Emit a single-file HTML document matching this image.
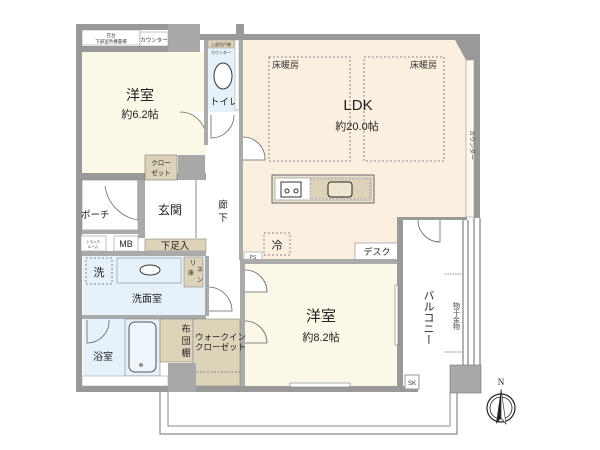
<!DOCTYPE html>
<html><head><meta charset="utf-8"><style>
html,body{margin:0;padding:0;background:#fff;}
svg{display:block;font-family:"Liberation Sans","Noto Sans CJK JP",sans-serif;}
</style></head><body>
<svg width="600" height="450" viewBox="0 0 600 450" xmlns="http://www.w3.org/2000/svg">
<rect width="600" height="450" fill="#fff"/>
<!-- balcony outer lines -->
<polyline points="160,392 160,434 457,434 457,392" fill="none" stroke="#888" stroke-width="1.2"/>
<polyline points="168,392 168,426 450,426 450,392" fill="none" stroke="#888" stroke-width="1"/>
<!-- outer wall base -->
<rect x="76" y="24" width="6" height="368" fill="#999"/>
<rect x="76" y="386" width="342" height="6" fill="#999"/>
<rect x="76" y="24" width="124" height="6" fill="#999"/>
<rect x="168" y="24" width="32" height="28" fill="#a8a8a8"/>
<rect x="200" y="34" width="280" height="6" fill="#999"/>
<rect x="236" y="24" width="8" height="16" fill="#999"/>
<rect x="474" y="40" width="6" height="178" fill="#999"/>
<!-- LDK -->
<polygon points="243,40 466,40 466,217 401,217 401,260 243,260" fill="#fbefdf"/>
<rect x="466" y="60" width="8" height="157" fill="#fdf7ec" stroke="#999" stroke-width="0.6"/>
<polygon points="455,40 474,40 474,60 466,60" fill="#999"/>
<!-- floor heating -->
<rect x="269" y="57" width="81" height="104" fill="none" stroke="#888" stroke-width="1" stroke-dasharray="2,2"/>
<rect x="364" y="57" width="80" height="104" fill="none" stroke="#888" stroke-width="1" stroke-dasharray="2,2"/>
<text x="272" y="68" font-size="9" fill="#333">床暖房</text>
<text x="410" y="68" font-size="9" fill="#333">床暖房</text>
<text x="358" y="110" font-size="15" fill="#222" text-anchor="middle">LDK</text>
<text x="357" y="130" font-size="11" fill="#222" text-anchor="middle">約20.0帖</text>
<!-- kitchen -->
<rect x="272" y="175" width="102" height="28" fill="#e9e2d0" stroke="#666" stroke-width="1"/>
<rect x="275" y="178" width="96" height="22" fill="#fff" stroke="#888" stroke-width="0.6"/>
<rect x="310" y="179" width="60" height="20" fill="#dcd3b8" stroke="#888" stroke-width="0.6" stroke-dasharray="2,1.5"/>
<rect x="328" y="182" width="24" height="15" rx="3" fill="#ede6d0" stroke="#222" stroke-width="1"/>
<rect x="281" y="182" width="20" height="15" fill="#fff" stroke="#333" stroke-width="1"/>
<circle cx="287" cy="191" r="2" fill="none" stroke="#333"/><circle cx="296" cy="191" r="2" fill="none" stroke="#333"/>
<rect x="264" y="233" width="26" height="22" fill="none" stroke="#888" stroke-dasharray="2,2"/>
<text x="277" y="249" font-size="11" text-anchor="middle" fill="#222">冷</text>
<rect x="244" y="252" width="18" height="8" fill="#fff" stroke="#999" stroke-width="0.6"/>
<text x="253" y="259" font-size="5" text-anchor="middle" fill="#444">PS</text>
<rect x="355" y="243" width="44" height="17" fill="#fff" stroke="#999" stroke-width="0.7"/>
<text x="377" y="255" font-size="9" text-anchor="middle" fill="#222">デスク</text>
<text x="470" y="145" font-size="6" fill="#444" transform="rotate(90 470 145)" text-anchor="middle">カウンター</text>
<!-- LDK left wall and partitions -->
<rect x="239" y="40" width="4" height="220" fill="#aaa"/>
<path d="M243,137 A22,22 0 0 1 265,160 L243,160" fill="#fff" stroke="#666" stroke-width="0.8"/>
<rect x="243" y="259" width="158" height="5" fill="#aaa"/>
<rect x="397" y="217" width="6" height="173" fill="#999"/>
<rect x="397" y="217" width="70" height="3" fill="#999"/>
<!-- balcony -->
<line x1="463" y1="220" x2="463" y2="365" stroke="#666"/>
<line x1="468" y1="220" x2="468" y2="365" stroke="#666"/>
<line x1="474" y1="218" x2="474" y2="365" stroke="#666"/>
<line x1="480" y1="218" x2="480" y2="365" stroke="#666"/>
<path d="M440,220 L440,242 A22,22 0 0 1 418,220" fill="#fff" stroke="#666" stroke-width="0.8"/>
<line x1="445" y1="274" x2="462" y2="274" stroke="#888" stroke-dasharray="1.5,1"/>
<line x1="445" y1="352" x2="462" y2="352" stroke="#888" stroke-dasharray="1.5,1"/>
<text x="428" y="290" font-size="11" fill="#222" writing-mode="tb">バルコニー</text>
<text x="456" y="302" font-size="7" fill="#444" writing-mode="tb">物干金物</text>
<rect x="450" y="365" width="31" height="28" fill="#a8a8a8" stroke="#777" stroke-width="0.6"/>
<rect x="405" y="375" width="14" height="14" fill="#fff" stroke="#999"/>
<text x="412" y="385" font-size="6" text-anchor="middle" fill="#333">SK</text>
<!-- bedroom 8.2 -->
<rect x="245" y="264" width="152" height="122" fill="#fbf8e7"/>
<rect x="395" y="285" width="3" height="60" fill="#fff" stroke="#777" stroke-width="0.6"/>
<rect x="290" y="383" width="60" height="4" fill="#fff" stroke="#777" stroke-width="0.6"/>
<text x="321" y="321" font-size="15" text-anchor="middle" fill="#222">洋室</text>
<text x="321" y="341" font-size="11" text-anchor="middle" fill="#222">約8.2帖</text>
<path d="M245,270 A22,22 0 0 1 267,292 L245,292" fill="#fff" stroke="#666" stroke-width="0.8"/>
<path d="M245,321 A22,22 0 0 1 267,343 L245,343" fill="none" stroke="#666" stroke-width="0.8"/>
<rect x="240" y="260" width="5" height="126" fill="#aaa"/>
<!-- upper-left bedroom -->
<rect x="82" y="52" width="124" height="121" fill="#fbf8e7"/>
<rect x="82" y="30" width="58" height="15" fill="#fff" stroke="#999" stroke-width="0.6"/>
<text x="111" y="37" font-size="4.5" text-anchor="middle" fill="#333">花台</text>
<text x="111" y="43" font-size="4.5" text-anchor="middle" fill="#333">下部室外機置場</text>
<rect x="140" y="32" width="28" height="14" fill="#fff" stroke="#999" stroke-width="0.6"/>
<text x="154" y="42" font-size="5.5" text-anchor="middle" fill="#333">カウンター</text>
<rect x="82" y="46" width="86" height="6" fill="#999"/>
<text x="140" y="100" font-size="14" text-anchor="middle" fill="#222">洋室</text>
<text x="140" y="118" font-size="11" text-anchor="middle" fill="#222">約6.2帖</text>
<rect x="82" y="173" width="124" height="7" fill="#999"/>
<rect x="145" y="155" width="32" height="25" fill="#dcd3b8" stroke="#777" stroke-width="0.6"/>
<text x="161" y="165" font-size="6.5" text-anchor="middle" fill="#222">クロー</text>
<text x="161" y="175" font-size="6.5" text-anchor="middle" fill="#222">ゼット</text>
<rect x="178" y="155" width="27" height="25" fill="#a8a8a8"/>
<path d="M206,112 L206,138 A26,26 0 0 0 180,112" fill="#fff" stroke="#666" stroke-width="0.8"/>
<rect x="204" y="40" width="4" height="105" fill="#aaa"/>
<!-- toilet -->
<rect x="208" y="40" width="30" height="72" fill="#e6f1f9"/>
<rect x="208" y="40" width="26" height="8" fill="#dcd3b8" stroke="#999" stroke-width="0.5"/>
<text x="221" y="46" font-size="4" text-anchor="middle" fill="#333">上部吊戸棚</text>
<text x="221" y="54" font-size="4" text-anchor="middle" fill="#333">カウンター</text>
<ellipse cx="223" cy="76" rx="9" ry="13" fill="#fff" stroke="#333"/>
<text x="210" y="105" font-size="9.5" fill="#222">トイレ</text>
<rect x="235" y="40" width="4" height="70" fill="#fff" stroke="#999" stroke-width="0.5"/>
<path d="M211,115 L211,138 A23,23 0 0 0 234,115" fill="#fff" stroke="#666" stroke-width="0.8"/>
<!-- porch / entrance -->
<rect x="82" y="180" width="56" height="50" fill="#fff" stroke="#888" stroke-width="0.6"/>
<path d="M138,180 L138,220 A40,40 0 0 1 105,186" fill="none" stroke="#666" stroke-width="0.8"/>
<text x="81" y="218" font-size="9.5" fill="#222">ポーチ</text>
<rect x="138" y="180" width="7" height="58" fill="#aaa"/>
<text x="170" y="214" font-size="12" text-anchor="middle" fill="#222">玄関</text>
<line x1="196" y1="180" x2="196" y2="238" stroke="#888"/>
<text x="223" y="208" font-size="9.5" text-anchor="middle" fill="#222">廊</text>
<text x="223" y="221" font-size="9.5" text-anchor="middle" fill="#222">下</text>
<rect x="82" y="230" width="58" height="4" fill="#aaa"/>
<rect x="81" y="236" width="25" height="15" fill="#fff" stroke="#999" stroke-width="0.6"/>
<text x="93" y="243" font-size="3.5" text-anchor="middle" fill="#333">トランク</text>
<text x="93" y="248" font-size="3.5" text-anchor="middle" fill="#333">ルーム</text>
<rect x="114" y="236" width="24" height="15" fill="#fff" stroke="#999" stroke-width="0.6"/>
<text x="126" y="247" font-size="9" text-anchor="middle" fill="#222">MB</text>
<rect x="145" y="239" width="61" height="12" fill="#dcd3b8" stroke="#888" stroke-width="0.6"/>
<text x="175" y="249" font-size="9.5" text-anchor="middle" fill="#222">下足入</text>
<rect x="82" y="251" width="124" height="5" fill="#aaa"/>
<!-- washroom -->
<rect x="83" y="256" width="122" height="59" fill="#e6f1f9"/>
<rect x="86" y="258" width="26" height="26" fill="none" stroke="#888" stroke-dasharray="2,2"/>
<text x="99" y="276" font-size="11" text-anchor="middle" fill="#222">洗</text>
<rect x="117" y="258" width="64" height="25" fill="#e6f1f9" stroke="#888" stroke-width="0.6"/>
<ellipse cx="150" cy="270" rx="10" ry="5" fill="#fff" stroke="#333"/>
<rect x="184" y="257" width="19" height="30" fill="#dcd3b8" stroke="#888" stroke-width="0.6"/>
<text x="193" y="265" font-size="7" text-anchor="middle" fill="#333">リ</text>
<text x="188" y="275" font-size="6" fill="#333">庫</text>
<text x="197" y="272" font-size="6" fill="#333">ネ</text>
<text x="197" y="282" font-size="6" fill="#333">ン</text>
<text x="147" y="302" font-size="10" text-anchor="middle" fill="#222">洗面室</text>
<rect x="205" y="256" width="4" height="60" fill="#aaa"/>
<path d="M209,287 A24,24 0 0 1 232,311 L209,311" fill="#fff" stroke="#666" stroke-width="0.8"/>
<rect x="82" y="315" width="124" height="4" fill="#aaa"/>
<!-- bath -->
<rect x="83" y="319" width="42" height="57" fill="#e6f1f9"/>
<rect x="125" y="319" width="35" height="57" fill="#e6f1f9" stroke="#888" stroke-width="0.6"/>
<rect x="129" y="322" width="27" height="50" rx="6" fill="#eef5fb" stroke="#555"/>
<circle cx="141" cy="365" r="1.3" fill="none" stroke="#555"/>
<path d="M87,320 L87,343 A22,22 0 0 0 109,320" fill="none" stroke="#666" stroke-width="0.8"/>
<text x="103" y="360" font-size="10" text-anchor="middle" fill="#222">浴室</text>
<rect x="82" y="376" width="86" height="10" fill="#fff" stroke="#999" stroke-width="0.5"/>
<!-- closets -->
<rect x="160" y="319" width="33" height="43" fill="#dcd3b8" stroke="#888" stroke-width="0.6"/>
<rect x="193" y="319" width="47" height="67" fill="#dcd3b8" stroke="#888" stroke-width="0.6"/>
<line x1="193" y1="372" x2="240" y2="372" stroke="#888" stroke-dasharray="2,1.5"/>
<text x="186" y="332" font-size="9" text-anchor="middle" fill="#222">布</text>
<text x="186" y="344" font-size="9" text-anchor="middle" fill="#222">団</text>
<text x="186" y="356" font-size="9" text-anchor="middle" fill="#222">棚</text>
<text x="195" y="340" font-size="8.5" fill="#222">ウォークイン</text>
<text x="195" y="350" font-size="8.5" fill="#222">クローゼット</text>
<rect x="168" y="363" width="28" height="29" fill="#a8a8a8"/>
<!-- compass -->
<text x="501" y="385" font-size="9" text-anchor="middle" fill="#222" font-family="Liberation Serif,serif">N</text>
<circle cx="501" cy="408" r="14" fill="none" stroke="#222" stroke-width="1.2"/>
<circle cx="501" cy="408" r="11" fill="none" stroke="#222" stroke-width="0.8"/>
<polygon points="501,389 496,424 501,418" fill="#222"/>
<polygon points="501,389 506,424 501,418" fill="#fff" stroke="#222" stroke-width="0.6"/>
</svg>
</body></html>
